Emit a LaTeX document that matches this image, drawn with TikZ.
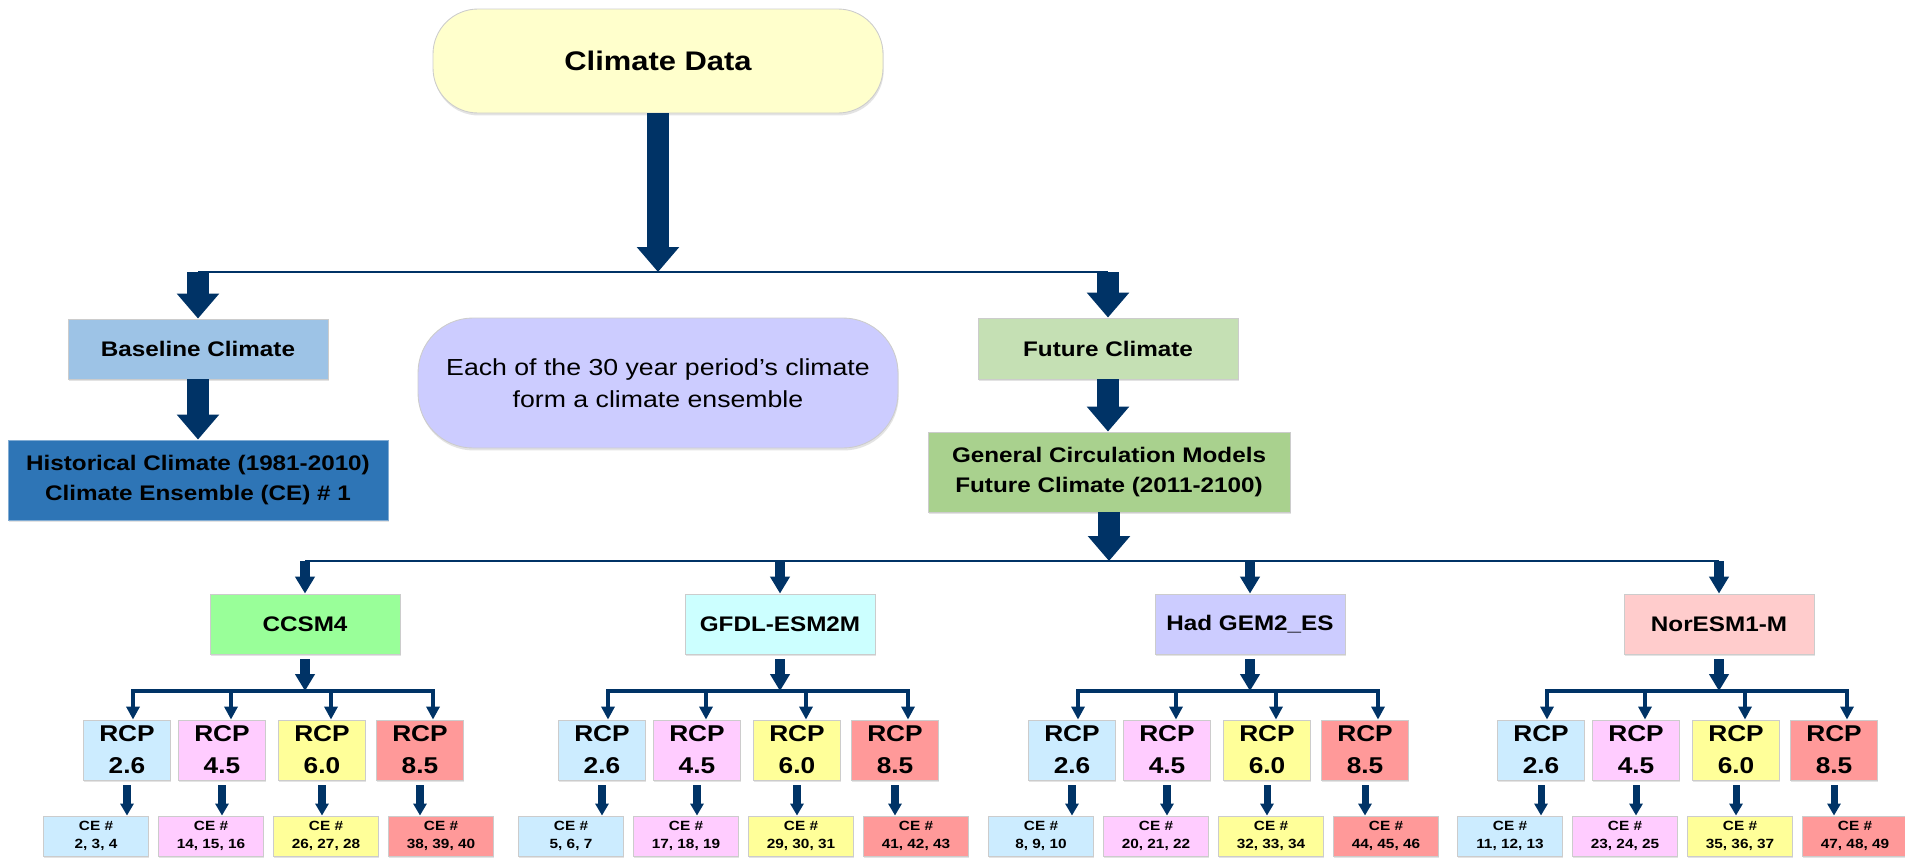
\documentclass[tikz,border=0pt]{standalone}
\usepackage{fontspec}
\setmainfont{Liberation Sans}[FakeStretch=1.15]
\usepackage{xcolor}
\usepackage{tikz}
\usetikzlibrary{arrows.meta,shadows}

\definecolor{navy}{RGB}{0,51,102}
\definecolor{datayellow}{HTML}{FFFFCC}
\definecolor{baseblue}{HTML}{9DC3E6}
\definecolor{histblue}{HTML}{2E75B6}
\definecolor{notepurple}{HTML}{CCCCFF}
\definecolor{futgreen}{HTML}{C5E0B4}
\definecolor{gcmgreen}{HTML}{A9D18E}
\definecolor{ccsmgreen}{HTML}{99FF99}
\definecolor{gfdlcyan}{HTML}{CCFFFF}
\definecolor{hadlilac}{HTML}{CCCCFF}
\definecolor{norpink}{HTML}{FFCCCC}
\definecolor{rcpblue}{HTML}{CCECFF}
\definecolor{rcppink}{HTML}{FFCCFF}
\definecolor{rcpyellow}{HTML}{FFFF99}
\definecolor{rcpred}{HTML}{FF9999}

\begin{document}
\begin{tikzpicture}[
  box/.style={draw=black!20, line width=0.5pt, inner sep=0pt, align=center,
    font=\bfseries\fontsize{12}{17}\selectfont,
    drop shadow={shadow xshift=0.4pt, shadow yshift=-1.4pt, opacity=0.18, fill=black!60}},
  bigarrow/.style={navy, line width=12pt, -{Triangle[width=0.82cm,length=0.5cm]}},
  midarrow/.style={navy, line width=5.7pt, -{Triangle[width=0.38cm,length=0.34cm]}},
  smallarrow/.style={navy, line width=2.6pt, -{Triangle[width=0.26cm,length=0.26cm]}},
  cearrow/.style={navy, line width=4pt, -{Triangle[width=0.26cm,length=0.24cm]}},
  hline/.style={navy, line width=1.6pt},
  branchline/.style={navy, line width=2.3pt, line cap=rect}
]
  \useasboundingbox (0,0) rectangle (38.1,-17.2);

  % top level
  \node[box, rounded corners=0.9cm, fill=datayellow, minimum width=9cm, minimum height=2.08cm,
    font=\bfseries\fontsize{15.3}{19}\selectfont] (data) at (13.16,-1.22) {Climate Data};
  \coordinate (j0) at (13.16,-5.44);
  \coordinate (jl) at (3.96,-5.44);
  \coordinate (jr) at (22.16,-5.44);
  \draw[hline] (jl) -- (jr);
  \draw[bigarrow] (data.south) -- (j0);

  % baseline side
  \node[box, fill=baseblue, minimum width=5.2cm, minimum height=1.2cm] (base) at (3.96,-6.98) {Baseline Climate};
  \node[box, fill=histblue, draw=histblue!60!white, minimum width=7.6cm, minimum height=1.6cm] (hist) at (3.96,-9.6)
    {Historical Climate (1981-2010)\\Climate Ensemble (CE) \# 1};
  \draw[bigarrow] (jl) -- (base.north);
  \draw[bigarrow] (base.south) -- (hist.north);

  % note
  \node[box, rounded corners=1.1cm, fill=notepurple, minimum width=9.6cm, minimum height=2.6cm,
    font=\fontsize{13.2}{18.2}\selectfont] (note) at (13.16,-7.66)
    {Each of the 30 year period's climate\\form a climate ensemble};

  % future side
  \node[box, fill=futgreen, minimum width=5.2cm, minimum height=1.22cm] (fut) at (22.16,-6.97) {Future Climate};
  \node[box, fill=gcmgreen, minimum width=7.24cm, minimum height=1.6cm] (gcm) at (22.18,-9.44)
    {General Circulation Models\\Future Climate (2011-2100)};
  \draw[bigarrow] (jr) -- (fut.north);
  \draw[bigarrow] (fut.south) -- (fut.south |- gcm.north);
  \coordinate (k0) at (22.18,-11.22);
  \coordinate (kl) at (6.1,-11.22);
  \coordinate (kr) at (34.38,-11.22);
  \draw[hline] (kl) -- (kr);
  \draw[bigarrow] (gcm.south) -- (k0);

  % models, scenarios and ensembles
  \foreach \cx/\lbl/\col [count=\g] in {6.1/CCSM4/ccsmgreen, 15.6/GFDL-ESM2M/gfdlcyan,
                                        25.0/Had GEM2\_ES/hadlilac, 34.38/NorESM1-M/norpink}{
    \coordinate (top\g) at (\cx,-11.22);
    \node[box, fill=\col, minimum width=3.8cm, minimum height=1.2cm] (gcm\g) at (\cx,-12.48) {\lbl};
    \draw[midarrow] (top\g) -- (gcm\g.north);
    \foreach \r/\ao/\ro/\co/\rv/\rc in {1/-3.44/-3.56/-4.18/2.6/rcpblue, 2/-1.48/-1.66/-1.88/4.5/rcppink,
                                        3/0.52/0.34/0.42/6.0/rcpyellow, 4/2.56/2.30/2.72/8.5/rcpred}{
      \pgfmathtruncatemacro\na{2+3*(\g-1)+12*(\r-1)}
      \pgfmathtruncatemacro\nb{\na+1}
      \pgfmathtruncatemacro\nc{\na+2}
      \coordinate (br\g\r) at ({\cx+\ao},-13.82);
      \node[box, fill=\rc, minimum width=1.74cm, minimum height=1.2cm,
        font=\bfseries\fontsize{13}{18.2}\selectfont] (rcp\g\r) at ({\cx+\ro},-15.0) {RCP\\\rv};
      \node[box, fill=\rc, minimum width=2.1cm, minimum height=0.8cm,
        font=\bfseries\fontsize{7.6}{10.2}\selectfont] (ce\g\r) at ({\cx+\co},-16.72) {CE \#\\\na, \nb, \nc};
      \draw[smallarrow] (br\g\r) -- (br\g\r |- rcp\g\r.north);
      \draw[cearrow, shorten <=0.1cm] (rcp\g\r.south) -- (rcp\g\r.south |- ce\g\r.north);
    }
    \draw[branchline] (br\g1) -- (br\g4);
    \draw[midarrow, shorten <=0.1cm] (gcm\g.south) -- (gcm\g.south |- br\g1);
  }
\end{tikzpicture}
\end{document}
